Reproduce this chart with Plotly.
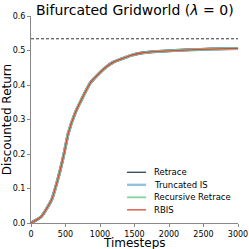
import plotly.graph_objects as go

# Data
timesteps = [0, 150, 300, 400, 470, 540, 640, 730, 860, 1000, 1100, 1200, 1340, 1450, 1580, 1700, 1820, 2000, 2300, 2600, 3000]
retrace = [0.0, 0.019, 0.068, 0.135, 0.193, 0.260, 0.319, 0.357, 0.406, 0.436, 0.454, 0.467, 0.478, 0.486, 0.492, 0.495, 0.497, 0.499, 0.502, 0.504, 0.506]
truncated_is = retrace
recursive_retrace = retrace
rbis = retrace
optimal_return = 0.534

series_names = ["Retrace", "Truncated IS", "Recursive Retrace", "RBIS"]
series_values = [retrace, truncated_is, recursive_retrace, rbis]
series_colors = ["#2f4256", "#93c0de", "#84d3a2", "#d9482b"]
series_widths = [3.0, 2.6, 2.2, 1.3]
legend_widths = [1.3, 2.4, 1.8, 1.3]

x_ticks = [0, 500, 1000, 1500, 2000, 2500, 3000]
y_ticks = [0.0, 0.1, 0.2, 0.3, 0.4, 0.5, 0.6]

fig = go.Figure()
for name, vals, col, w in zip(series_names, series_values, series_colors, series_widths):
    fig.add_trace(go.Scatter(x=timesteps, y=vals, mode="lines", name=name, showlegend=False,
                             hoverinfo="skip",
                             line=dict(color=col, width=w, shape="spline", smoothing=0.5)))

fig.add_shape(type="line", xref="paper", yref="y", x0=0, x1=1,
              y0=optimal_return, y1=optimal_return,
              line=dict(color="#333333", width=1, dash="3px,2px"))

font = "DejaVu Sans"
annotations = [
    dict(text="Bifurcated Gridworld (<i>λ</i> = 0)", xref="paper", yref="paper",
         x=0.5, y=1.0, yshift=6, xanchor="center", yanchor="middle",
         showarrow=False, font=dict(size=14, family=font)),
    dict(text="Timesteps", xref="paper", yref="paper",
         x=0.5, y=0.0, yshift=-20, xanchor="center", yanchor="middle",
         showarrow=False, font=dict(size=12, family=font)),
]

# compact legend (lines + labels) in the lower right of the axes
leg_x0, leg_x1, leg_tx = 0.464, 0.556, 0.585
leg_y_top, leg_dy = 0.245, 0.0605
for i, (name, col, lw) in enumerate(zip(series_names, series_colors, legend_widths)):
    yy = leg_y_top - i * leg_dy
    fig.add_shape(type="line", xref="paper", yref="paper", x0=leg_x0, x1=leg_x1, y0=yy, y1=yy,
                  line=dict(color=col, width=lw))
    annotations.append(dict(text=name, xref="paper", yref="paper", x=leg_tx, y=yy,
                            xanchor="left", yanchor="middle", showarrow=False,
                            font=dict(size=8.5, family=font)))

fig.update_layout(
    width=249, height=249,
    margin=dict(l=31, r=11, t=16, b=26),
    plot_bgcolor="white", paper_bgcolor="white",
    font=dict(family=font, color="black"),
    showlegend=False,
    annotations=annotations,
)
fig.update_xaxes(range=[0, 3000], tickvals=x_ticks, ticks="outside", ticklen=3,
                 tickcolor="#888888", showline=True, linecolor="#888888", linewidth=1,
                 showgrid=False, zeroline=False, tickfont=dict(size=8, color="black"), automargin=False)
fig.update_yaxes(range=[0, 0.6], tickvals=y_ticks, tickformat=".1f", ticks="outside", ticklen=3,
                 tickcolor="#888888", showline=True, linecolor="#888888", linewidth=1,
                 showgrid=False, zeroline=False, tickfont=dict(size=8, color="black"), automargin=False,
                 title=dict(text="Discounted Return", font=dict(size=12), standoff=0))

fig.write_html("out.html", config={"displayModeBar": False},
               post_script="document.body.style.margin='0';document.body.style.overflow='hidden';")
